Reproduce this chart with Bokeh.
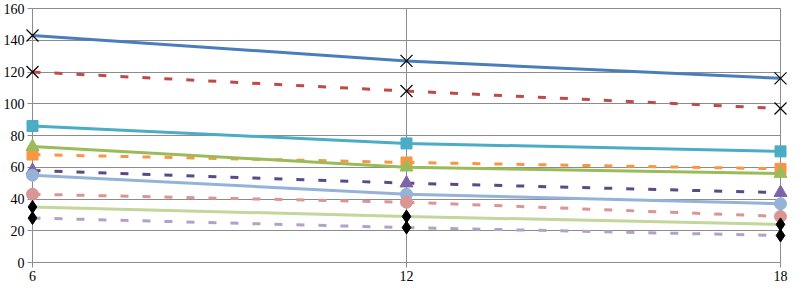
from bokeh.plotting import figure
from bokeh.models import FixedTicker, Range1d
from bokeh.embed import file_html
from bokeh.resources import INLINE

x = [6, 12, 18]
s1 = [143, 127, 116]
s2 = [120, 108, 97]
s3 = [86, 75, 70]
s4 = [68, 63, 59]
s5 = [73, 60, 56]
s6 = [58, 50, 44]
s7 = [55, 43, 37]
s8 = [43, 38, 29]
s9 = [35, 29, 24]
s10 = [28, 22, 17]
y_ticks = [0, 20, 40, 60, 80, 100, 120, 140, 160]
x_ticks = [6, 12, 18]

series = [
    (s1, "#4A7EBB", "solid", "x", "black", 17),
    (s2, "#BE4B48", "8 14", "x", "black", 17),
    (s3, "#4BACC6", "solid", "square", "#4BACC6", 11),
    (s4, "#F79646", "8 14", "square", "#F79646", 11),
    (s5, "#9BBB59", "solid", "triangle", "#9BBB59", 13),
    (s6, "#5B4A86", "8 14", "triangle", "#7C64A8", 13),
    (s7, "#95B3D7", "solid", "circle", "#95B3D7", 12),
    (s8, "#D99694", "8 14", "circle", "#D99694", 12),
    (s9, "#C3D69B", "solid", "diamond", "black", 13),
    (s10, "#B3A2C7", "8 14", "diamond", "black", 13),
]

p = figure(width=789, height=283, output_backend="svg", toolbar_location=None,
           x_range=Range1d(x_ticks[0], x_ticks[-1]), y_range=Range1d(y_ticks[0], y_ticks[-1]),
           min_border_left=30, min_border_right=9, min_border_top=8, min_border_bottom=20)

grid_col = "#8C8C8C"
p.outline_line_color = grid_col
p.xgrid.ticker = FixedTicker(ticks=x_ticks)
p.ygrid.ticker = FixedTicker(ticks=y_ticks)
p.xgrid.grid_line_color = grid_col
p.ygrid.grid_line_color = grid_col
p.xaxis.ticker = FixedTicker(ticks=x_ticks)
p.yaxis.ticker = FixedTicker(ticks=y_ticks)
for ax in (p.xaxis, p.yaxis):
    ax.axis_line_color = grid_col
    ax.major_tick_line_color = grid_col
    ax.major_tick_out = 5
    ax.major_tick_in = 0
    ax.minor_tick_line_color = None
    ax.major_label_text_font = "Liberation Serif"
    ax.major_label_text_font_size = "14px"
    ax.major_label_text_color = "black"
p.xaxis.major_label_standoff = 3
p.yaxis.major_label_standoff = 3

for ys, col, dash, marker, mcol, size in series:
    p.line(x, ys, line_color=col, line_width=3, line_dash=dash, level="overlay")
    if marker == "x":
        p.scatter(x, ys, marker="x", size=size, line_color=mcol, line_width=1.2, level="overlay")
    else:
        p.scatter(x, ys, marker=marker, size=size, fill_color=mcol, line_color=mcol, level="overlay")

open("out.html", "w").write(file_html(p, INLINE))
